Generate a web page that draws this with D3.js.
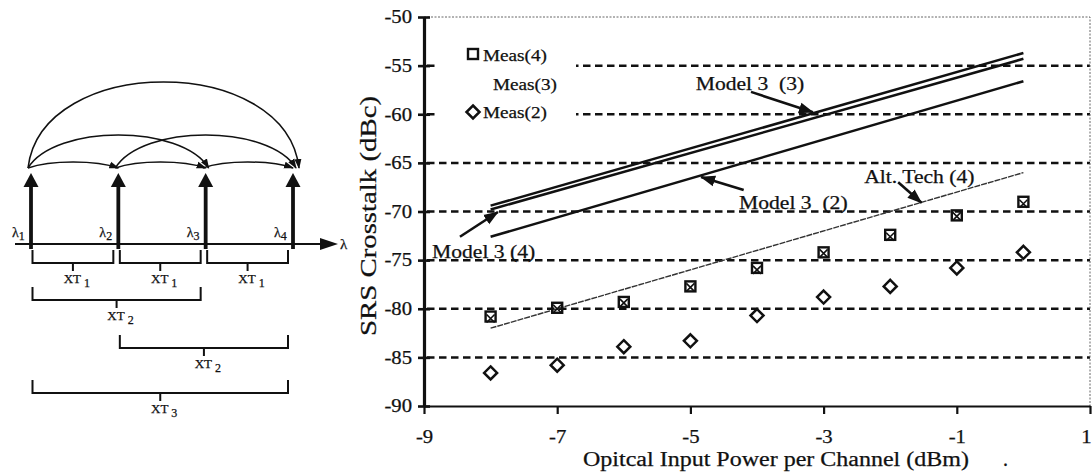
<!DOCTYPE html>
<html>
<head>
<meta charset="utf-8">
<script src="https://cdn.jsdelivr.net/npm/d3@7"></script>
<style>
    body { margin: 0; background: #fff; }
    svg { font-family: "Liberation Serif", "Times New Roman", serif; fill: #111; }
    text { stroke: #111; stroke-width: 0.25; }
    .grid { stroke: #111; stroke-width: 2.5; stroke-dasharray: 7.5,4.5; }
    .frame { stroke: #666; stroke-width: 1; stroke-dasharray: 2,1.5; fill: none; }
    .model { stroke: #111; stroke-width: 2.5; fill: none; }
    .alt { stroke: #333; stroke-width: 1.4; stroke-dasharray: 6,1; fill: none; }
    .note-line { stroke: #111; stroke-width: 2.6; fill: none; }
    .sq { fill: none; stroke: #111; stroke-width: 2.4; }
    .xm { stroke: #111; stroke-width: 1.6; }
    .dia { fill: none; stroke: #111; stroke-width: 2.5; }
    .bracket { stroke: #111; stroke-width: 2; fill: none; }
    .arc { stroke: #111; stroke-width: 1.5; fill: none; }
</style>
</head>
<body>
<svg id="fig" width="1092" height="475"></svg>
<script>

// chart values
var power = [-8, -7, -6, -5, -4, -3, -2, -1, 0];
var meas4 = [-80.8, -79.9, -79.3, -77.7, -75.8, -74.2, -72.4, -70.4, -69.0];
var meas3 = [-81.0, -80.0, -79.4, -77.8, -76.0, -74.3, -72.6, -70.5, -69.2];
var meas2 = [-86.6, -85.8, -83.9, -83.3, -80.7, -78.8, -77.7, -75.8, -74.2];
var modelPower = [-8, 0];
var model4 = [-69.4, -53.7];
var model3 = [-69.8, -54.3];
var model2 = [-72.6, -56.6];
var altTech4 = [-82.0, -66.0];
var xTicks = [-9, -7, -5, -3, -1, 1];
var yTicks = [-50, -55, -60, -65, -70, -75, -80, -85, -90];
var gridLevels = [-55, -60, -65, -70, -75, -80, -85];

// schematic: channels and the crosstalk pairs [from, to, order]
var channels = [1, 2, 3, 4];
var crosstalk = [[1, 2, 1], [2, 3, 1], [3, 4, 1], [1, 3, 2], [2, 4, 2], [1, 4, 3]];

var notes = [
    {text: "Model 3 (4)", at: [-8.88, -74.8], from: [-8.46, -72.6], to: [-7.89, -70.05]},
    {text: "Model 3  (3)", at: [-4.92, -57.5], from: [-4.09, -57.7], to: [-3.16, -59.8]},
    {text: "Model 3  (2)", at: [-4.27, -69.7], from: [-4.20, -67.8], to: [-4.84, -66.45]},
    {text: "Alt. Tech (4)", at: [-2.39, -67.1], from: [-1.88, -67.0], to: [-1.53, -69.1]}
];

var svg = d3.select("#fig");

var defs = svg.append("defs");
defs.append("marker")
    .attr("id", "head")
    .attr("markerUnits", "userSpaceOnUse")
    .attr("viewBox", "0 -6 15 12")
    .attr("refX", 14).attr("refY", 0)
    .attr("markerWidth", 15).attr("markerHeight", 12)
    .attr("orient", "auto")
    .append("path").attr("d", "M0,-5.5 L15,0 L0,5.5 Z").attr("fill", "#111");

defs.append("marker")
    .attr("id", "small")
    .attr("markerUnits", "userSpaceOnUse")
    .attr("viewBox", "0 -4 10 8")
    .attr("refX", 9).attr("refY", 0)
    .attr("markerWidth", 10).attr("markerHeight", 8)
    .attr("orient", "auto")
    .append("path").attr("d", "M0,-3.5 L10,0 L0,3.5 Z").attr("fill", "#111");

function stretch(sel, k) {
    sel.each(function() {
        var len = this.getComputedTextLength();
        d3.select(this).attr("textLength", len * k).attr("lengthAdjust", "spacingAndGlyphs");
    });
}

// ---------- left: channel schematic ----------
var dx = d3.scaleLinear().domain([1, 4]).range([31, 293]);
var axisY = 244, tipY = 173, arcY = 168;
var arcHeight = d3.scaleLinear().domain([1, 2, 3]).range([6, 33, 86]);
var arcSpread = d3.scaleLinear().domain([1, 2, 3]).range([0.25, 0.15, 0.05]);
var rowY = [250, 287, 335, 380];

var sch = svg.append("g").attr("class", "schematic");

sch.append("line")
    .attr("x1", 15).attr("x2", 322)
    .attr("y1", axisY).attr("y2", axisY)
    .attr("stroke", "#111").attr("stroke-width", 2);
sch.append("path")
    .attr("d", "M320," + (axisY - 6) + " L338," + axisY + " L320," + (axisY + 6) + " Z")
    .attr("fill", "#111");
sch.append("text")
    .attr("x", 340).attr("y", axisY + 5)
    .attr("font-size", 15)
    .text("λ");

var ch = sch.selectAll(".ch").data(channels).enter().append("g").attr("class", "ch");
ch.append("line")
    .attr("x1", function(d) { return dx(d); }).attr("x2", function(d) { return dx(d); })
    .attr("y1", axisY + 5).attr("y2", tipY + 12)
    .attr("stroke", "#111").attr("stroke-width", 3.8);
ch.append("path")
    .attr("d", function(d) {
        var c = dx(d);
        return "M" + (c - 7.5) + "," + (tipY + 14) + " L" + c + "," + tipY + " L" + (c + 7.5) + "," + (tipY + 14) + " Z";
    })
    .attr("fill", "#111");
var lam = ch.append("text")
    .attr("x", function(d) { return dx(d) - 19; })
    .attr("y", axisY - 7)
    .attr("font-size", 14);
lam.append("tspan").text("λ");
lam.append("tspan").attr("dy", 3).attr("font-size", 12).text(function(d) { return d; });

sch.selectAll(".arc").data(crosstalk).enter().append("path")
    .attr("class", "arc")
    .attr("marker-end", "url(#small)")
    .attr("d", function(d) {
        var x0 = dx(d[0]) - 3, x1 = dx(d[1]) + 3 * (d[2] - 1);
        var s = x1 - x0, k = arcHeight(d[2]) / 0.75, a = arcSpread(d[2]) * s;
        return "M" + x0 + "," + arcY + " C" + (x0 + a) + "," + (arcY - k) + " " + (x1 - a) + "," + (arcY - k) + " " + x1 + "," + arcY;
    });

function rowOf(d) { return d[2] === 1 ? 0 : d[2] === 2 ? d[0] : 3; }

var br = sch.selectAll(".br").data(crosstalk).enter().append("g").attr("class", "br");
br.append("path")
    .attr("class", "bracket")
    .attr("d", function(d) {
        var x0 = dx(d[0]) + 1.5, x1 = dx(d[1]) - 5, t = rowY[rowOf(d)], b = t + 13, m = (x0 + x1) / 2;
        return "M" + x0 + "," + t + " V" + b + " H" + x1 + " V" + t + " M" + m + "," + b + " V" + (b + 8);
    });
var xt = br.append("text")
    .attr("x", function(d) { return (dx(d[0]) + dx(d[1])) / 2 - 11; })
    .attr("y", function(d) { return rowY[rowOf(d)] + 33; })
    .attr("font-size", 13);
xt.append("tspan").text("XT");
xt.append("tspan").attr("dx", 3).attr("dy", 4).attr("font-size", 12).text(function(d) { return d[2]; });

// ---------- right: crosstalk chart ----------
var x = d3.scaleLinear().domain([-9, 1]).range([424, 1090]);
var y = d3.scaleLinear().domain([-90, -50]).range([406, 17]);

var g = svg.append("g");

g.selectAll(".grid").data(gridLevels).enter().append("line")
    .attr("class", "grid")
    .attr("x1", x(-9) + 3).attr("x2", x(1))
    .attr("y1", function(d) { return y(d); }).attr("y2", function(d) { return y(d); });

g.append("path")
    .attr("class", "frame")
    .attr("d", "M" + x(-9) + "," + y(-50) + " H" + x(1) + " V" + y(-90));

// legend box hides grid behind it
g.append("rect")
    .attr("x", 437).attr("y", 36).attr("width", 139).attr("height", 90)
    .attr("fill", "#fff");

var line = d3.line()
    .x(function(d) { return x(d[0]); })
    .y(function(d) { return y(d[1]); });

[model4, model3, model2].forEach(function(m) {
    g.append("path")
        .datum(d3.zip(modelPower, m))
        .attr("class", "model")
        .attr("d", line);
});

g.append("path")
    .datum(d3.zip(modelPower, altTech4))
    .attr("class", "alt")
    .attr("d", line);

// markers
g.selectAll(".sq").data(d3.zip(power, meas4)).enter().append("rect")
    .attr("class", "sq")
    .attr("x", function(d) { return x(d[0]) - 5; })
    .attr("y", function(d) { return y(d[1]) - 5; })
    .attr("width", 10).attr("height", 10);

g.selectAll(".xm").data(d3.zip(power, meas3)).enter().append("path")
    .attr("class", "xm")
    .attr("d", function(d) {
        var cx = x(d[0]), cy = y(d[1]);
        return "M" + (cx - 4) + "," + (cy - 4) + " L" + (cx + 4) + "," + (cy + 4) +
            " M" + (cx + 4) + "," + (cy - 4) + " L" + (cx - 4) + "," + (cy + 4);
    });

g.selectAll(".dia").data(d3.zip(power, meas2)).enter().append("path")
    .attr("class", "dia")
    .attr("d", function(d) {
        var cx = x(d[0]), cy = y(d[1]);
        return "M" + cx + "," + (cy - 6.5) + " L" + (cx + 6.5) + "," + cy + " L" + cx + "," + (cy + 6.5) + " L" + (cx - 6.5) + "," + cy + " Z";
    });

// annotations
var note = g.selectAll(".note").data(notes).enter().append("g").attr("class", "note");
note.append("line")
    .attr("class", "note-line")
    .attr("marker-end", "url(#head)")
    .attr("x1", function(d) { return x(d.from[0]); }).attr("y1", function(d) { return y(d.from[1]); })
    .attr("x2", function(d) { return x(d.to[0]); }).attr("y2", function(d) { return y(d.to[1]); });
var noteText = note.append("text")
    .attr("x", function(d) { return x(d.at[0]); })
    .attr("y", function(d) { return y(d.at[1]); })
    .attr("font-size", 18)
    .style("white-space", "pre")
    .text(function(d) { return d.text; });
stretch(noteText, 1.2);

// legend
var leg = g.append("g").attr("font-size", 16);
leg.append("rect").attr("class", "sq").attr("x", 468).attr("y", 49).attr("width", 10).attr("height", 10);
leg.append("path").attr("class", "dia").attr("d", "M473,105.5 L479.5,112 L473,118.5 L466.5,112 Z");
stretch(leg.append("text").attr("x", 483).attr("y", 61).text("Meas(4)"), 1.2);
stretch(leg.append("text").attr("x", 493).attr("y", 90).text("Meas(3)"), 1.2);
stretch(leg.append("text").attr("x", 483).attr("y", 118).text("Meas(2)"), 1.2);

// axes
var gx = g.append("g")
    .attr("transform", "translate(0," + y(-90) + ")")
    .call(d3.axisBottom(x).tickValues(xTicks).tickSizeInner(8).tickSizeOuter(0).tickPadding(16)
        .tickFormat(function(d) { return String(d); }));
gx.attr("font-family", null).attr("font-size", 18);
gx.select(".domain").attr("stroke", "#111").attr("stroke-width", 1.8);
gx.selectAll(".tick line").attr("stroke", "#111").attr("stroke-width", 2.2);
gx.selectAll(".tick text").attr("fill", "#111")
    .attr("x", function(d) { return d === 1 ? -4 : 0; });
stretch(gx.selectAll(".tick text"), 1.15);

var gy = g.append("g")
    .attr("transform", "translate(" + x(-9) + ",0)")
    .call(d3.axisLeft(y).tickValues(yTicks).tickSizeInner(6).tickSizeOuter(0).tickPadding(6)
        .tickFormat(function(d) { return String(d); }));
gy.attr("font-family", null).attr("font-size", 18);
gy.select(".domain").attr("stroke", "#111").attr("stroke-width", 3.2);
gy.selectAll(".tick line").attr("x1", 6).attr("stroke", "#111").attr("stroke-width", 2.6);
gy.selectAll(".tick text").attr("fill", "#111");
stretch(gy.selectAll(".tick text"), 1.15);

var yTitle = g.append("text")
    .attr("transform", "translate(376,216) rotate(-90)")
    .attr("text-anchor", "middle")
    .attr("font-size", 24)
    .text("SRS Crosstalk (dBc)");
stretch(yTitle, 1.2);

var xTitle = g.append("text")
    .attr("x", 776).attr("y", 466)
    .attr("text-anchor", "middle")
    .attr("font-size", 20)
    .text("Opitcal Input Power per Channel (dBm)");
stretch(xTitle, 1.2);

g.append("text")
    .attr("x", 1003).attr("y", 466)
    .attr("font-size", 20)
    .text(".");

</script>
</body>
</html>
